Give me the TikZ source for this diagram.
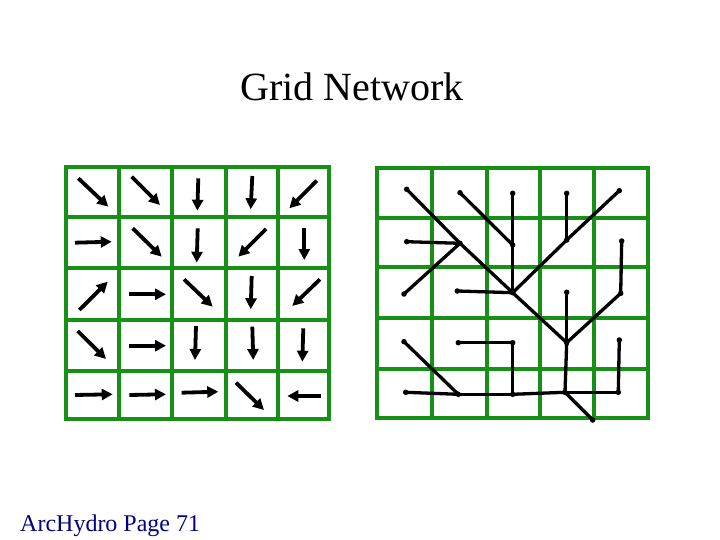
\documentclass[tikz,border=0pt]{standalone}
\usepackage{fontspec}
\setmainfont{Liberation Serif}
\usetikzlibrary{arrows.meta}
\definecolor{gridgreen}{RGB}{22,145,22}
\definecolor{navytext}{RGB}{0,0,128}
\begin{document}
\begin{tikzpicture}[x=1pt,y=-1pt,
  gridline/.style={draw=gridgreen,line width=4pt},
  flowarrow/.style={line width=3.8pt,-{Triangle[length=11pt,width=11pt]}},
  flowline/.style={line width=3.3pt,line cap=round,line join=round},
  dot/.style={circle,fill=black,inner sep=0pt,minimum size=5.5pt}]
\useasboundingbox (0,0) rectangle (720,540);
% title and footer
\node[anchor=base,font=\fontsize{40}{42}\selectfont,inner sep=0pt] (title) at (352,101) {Grid Network};
\node[anchor=base west,font=\fontsize{24}{26}\selectfont,text=navytext,inner sep=0pt] (footer) at (20,531) {ArcHydro Page 71};
% left grid
\foreach \x in {66,119,172,226,278,329} \draw[gridline] (\x,167) -- (\x,419);
\foreach \y in {167,217,268,320,371,419} \draw[gridline] (64,\y) -- (331,\y);
% right grid
\foreach \x in {377,432,487,540,594,648} \draw[gridline] (\x,168) -- (\x,418);
\foreach \y in {168,218,267,318,369,418} \draw[gridline] (375,\y) -- (650,\y);
% flow direction arrows
\draw[flowarrow] (78.3,178.3) -- (108.3,206.7);
\draw[flowarrow] (131.7,176.7) -- (160,205);
\draw[flowarrow] (198.3,178.3) -- (197.3,210.7);
\draw[flowarrow] (252.3,176) -- (250.7,209.3);
\draw[flowarrow] (316.7,180.7) -- (289.3,208.3);
\draw[flowarrow] (75,242.7) -- (111.7,241.7);
\draw[flowarrow] (132.7,228.3) -- (161.7,256.7);
\draw[flowarrow] (197.7,228.3) -- (196.7,262.7);
\draw[flowarrow] (266,229) -- (238.3,256.7);
\draw[flowarrow] (304.3,228.3) -- (304.3,260);
\draw[flowarrow] (79.3,310) -- (107.7,281.7);
\draw[flowarrow] (129.3,294.3) -- (166,294.3);
\draw[flowarrow] (184,279.3) -- (212.7,306.7);
\draw[flowarrow] (251.7,276) -- (250.7,309.3);
\draw[flowarrow] (320,279.3) -- (292.3,306);
\draw[flowarrow] (77.7,331) -- (106,359);
\draw[flowarrow] (129.3,345.7) -- (166,345.7);
\draw[flowarrow] (196,326) -- (195,360);
\draw[flowarrow] (252.3,326.7) -- (253.3,360);
\draw[flowarrow] (303.3,328.3) -- (302.3,361.7);
\draw[flowarrow] (75,395) -- (112.7,394.3);
\draw[flowarrow] (129.3,395) -- (166,394.3);
\draw[flowarrow] (181.7,392.7) -- (218.3,391.7);
\draw[flowarrow] (236,382.7) -- (264,410);
\draw[flowarrow] (320.7,396) -- (287.3,396);
% network points
\coordinate (n00) at (406.7,189.3);
\coordinate (n01) at (460,192.7);
\coordinate (n02) at (512.7,193.3);
\coordinate (n03) at (566.7,193.3);
\coordinate (n04) at (619.3,190.7);
\coordinate (n10) at (406.7,241.7);
\coordinate (n11) at (460,243.3);
\coordinate (n12) at (512.7,245);
\coordinate (n13) at (566.7,240);
\coordinate (n14) at (621.7,241);
\coordinate (n20) at (404,294);
\coordinate (n21) at (457.3,291);
\coordinate (n22) at (512.7,292.7);
\coordinate (n23) at (566.7,292.3);
\coordinate (n24) at (620.7,293.3);
\coordinate (n30) at (404,341.7);
\coordinate (n31) at (458.3,342.7);
\coordinate (n32) at (512.7,342.7);
\coordinate (n33) at (566.7,342.7);
\coordinate (n34) at (619.3,340);
\coordinate (n40) at (405.7,392.3);
\coordinate (n41) at (458.3,394.3);
\coordinate (n42) at (512.7,394.3);
\coordinate (n43) at (565,392.3);
\coordinate (n44) at (618.3,392.3);
\coordinate (out) at (592.7,420);
% network links
\draw[flowline] (n00) -- (n11);
\draw[flowline] (n01) -- (n12);
\draw[flowline] (n02) -- (n12);
\draw[flowline] (n03) -- (n13);
\draw[flowline] (n04) -- (n13);
\draw[flowline] (n10) -- (n11);
\draw[flowline] (n11) -- (n22);
\draw[flowline] (n12) -- (n22);
\draw[flowline] (n13) -- (n22);
\draw[flowline] (n14) -- (n24);
\draw[flowline] (n20) -- (n11);
\draw[flowline] (n21) -- (n22);
\draw[flowline] (n22) -- (n33);
\draw[flowline] (n23) -- (n33);
\draw[flowline] (n24) -- (n33);
\draw[flowline] (n30) -- (n41);
\draw[flowline] (n31) -- (n32);
\draw[flowline] (n32) -- (n42);
\draw[flowline] (n33) -- (n43);
\draw[flowline] (n34) -- (n44);
\draw[flowline] (n40) -- (n41);
\draw[flowline] (n41) -- (n42);
\draw[flowline] (n42) -- (n43);
\draw[flowline] (n43) -- (out);
\draw[flowline] (n44) -- (n43);
\foreach \p in {n00,n01,n02,n03,n04,n10,n11,n12,n13,n14,n20,n21,n22,n23,n24,n30,n31,n32,n33,n34,n40,n41,n42,n43,n44,out}
  \node[dot] at (\p) {};
\end{tikzpicture}
\end{document}
